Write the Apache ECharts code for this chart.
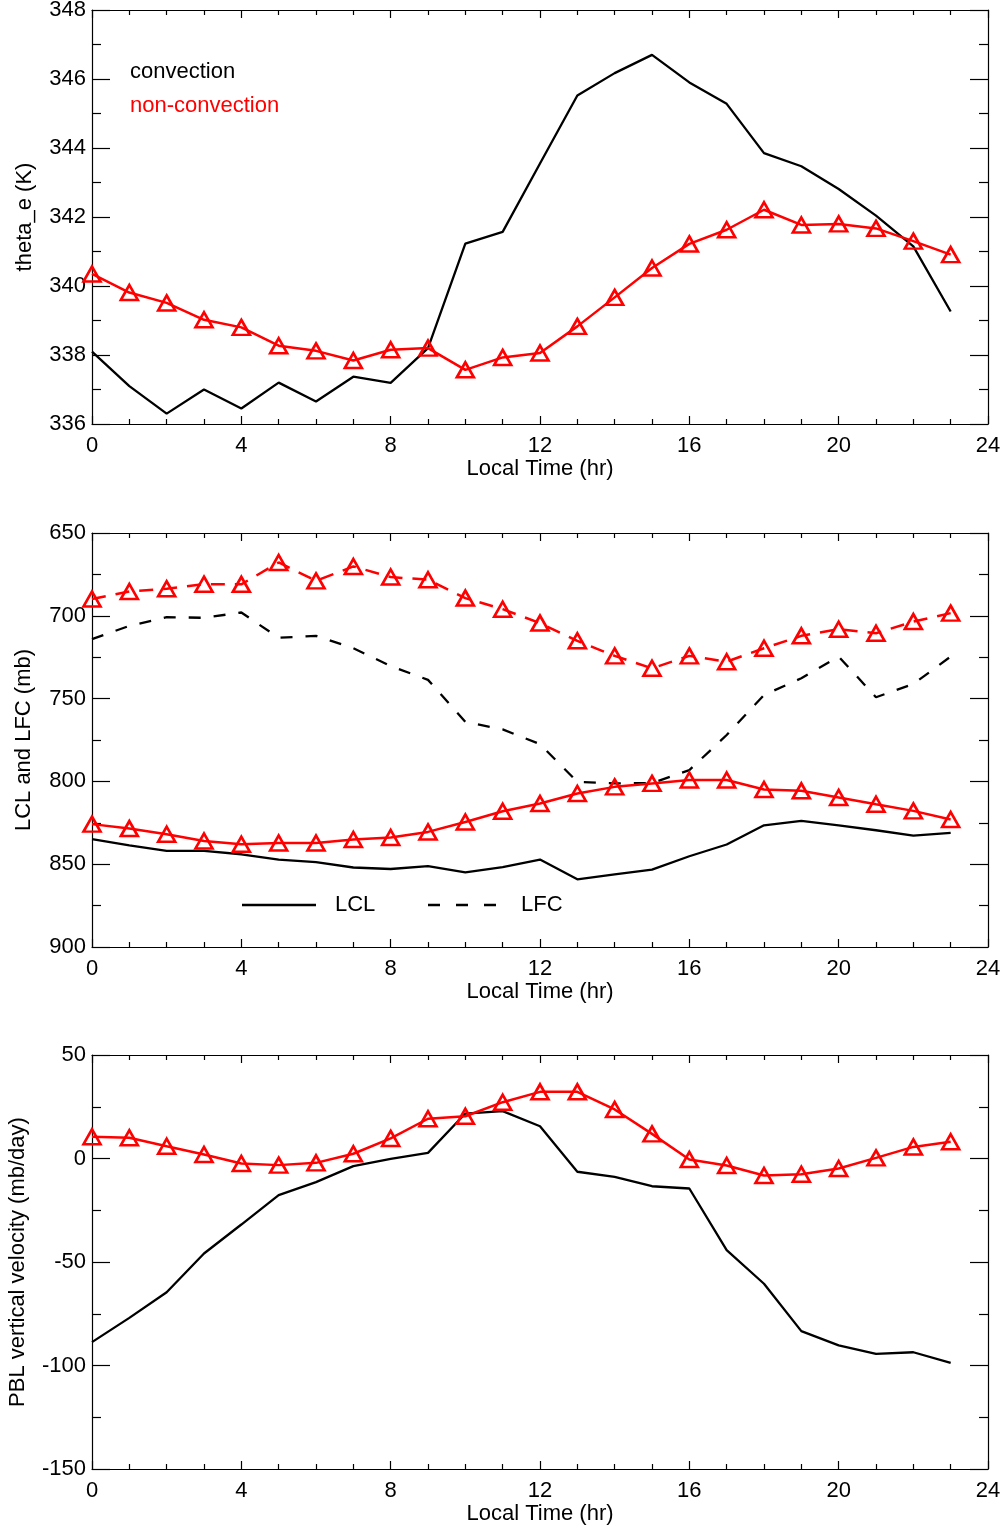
<!DOCTYPE html>
<html>
<head>
<meta charset="utf-8">
<script src="https://cdn.jsdelivr.net/npm/echarts@6/dist/echarts.min.js"></script>
<style>
  html, body { margin: 0; padding: 0; background: #fff; }
  #main { width: 1003px; height: 1528px; }
</style>
</head>
<body>
<div id="main"></div>
<script>
// local hour of day
var hours = [0,1,2,3,4,5,6,7,8,9,10,11,12,13,14,15,16,17,18,19,20,21,22,23];

// panel 1: theta_e (K)
var thetaConv = [338.1,337.1,336.3,337.0,336.45,337.2,336.65,337.37,337.19,338.2,341.23,341.57,343.55,345.52,346.17,346.7,345.9,345.28,343.85,343.47,342.81,342.04,341.15,339.26];
var thetaNon  = [340.35,339.81,339.51,339.02,338.8,338.27,338.12,337.84,338.15,338.2,337.57,337.93,338.06,338.83,339.67,340.52,341.22,341.63,342.21,341.77,341.8,341.67,341.3,340.91];

// panel 2: LCL / LFC (mb)
var lclConv = [834.9,838.6,842,842,844,847.2,848.8,852,852.9,851.1,854.9,851.7,847.2,859.1,856.1,853.3,845.2,838.1,826.5,823.9,826.5,829.5,832.7,831.1];
var lclNon  = [825.8,828.5,831.9,836,838,837.2,837.2,835.1,833.9,830.5,824.5,818,813.3,807.3,803.3,801.2,799.2,799.2,804.9,805.7,809.7,813.8,817.8,823];
var lfcConv = [714.1,706.1,700.8,701.2,698,713.3,712.1,719.6,730.3,738.7,764,768.6,777.5,800.3,801.2,801,793.2,772,747.8,737.7,724.6,749.2,741.2,724.6];
var lfcNon  = [689.9,685.3,683.7,680.9,681,667.8,678.9,670.2,676.6,678.2,689.3,696,704.4,715.1,724.2,731.7,724.2,727.7,719.6,712.1,708.1,710.5,703.5,698.4];

// panel 3: PBL vertical velocity (mb/day)
var wConv = [-88.7,-77,-64.6,-45.9,-31.9,-17.7,-11.4,-3.7,-0.2,2.7,21.7,22.9,15.6,-6.4,-8.9,-13.4,-14.5,-44.3,-60.5,-83.4,-90.3,-94.4,-93.6,-98.7];
var wNon  = [10.5,10,5.9,1.9,-2.4,-3.2,-2.1,2.3,9.7,19.2,20.4,27.2,32.2,32.2,23.7,11.9,-0.5,-3.4,-8.2,-7.6,-4.8,0.3,5.6,8.1];

var xTicks = [0, 4, 8, 12, 16, 20, 24];

var font = 'Liberation Sans, Arial, Helvetica, sans-serif';
var RED = '#ff0000';

function pairs(vals) {
    return hours.map(function (h, i) { return [h, vals[i]]; });
}

var grids = [
    { left: 92, right: 15, top: 10, height: 414, outerBoundsMode: 'none' },
    { left: 92, right: 15, top: 533, height: 414, outerBoundsMode: 'none' },
    { left: 92, right: 15, top: 1055, height: 414, outerBoundsMode: 'none' }
];

var xAxes = [], yAxes = [];
var yCfg = [
    { min: 336, max: 348, interval: 2, name: 'theta_e (K)', gap: 56, inverse: false },
    { min: 650, max: 900, interval: 50, name: 'LCL and LFC (mb)', gap: 57, inverse: true },
    { min: -150, max: 50, interval: 50, name: 'PBL vertical velocity (mb/day)', gap: 63, inverse: false }
];

for (var g = 0; g < 3; g++) {
    // bottom x (labels) and top x (ticks only)
    [false, true].forEach(function (isTop) {
        xAxes.push({
            type: 'value', gridIndex: g, min: 0, max: 24, interval: 4,
            position: isTop ? 'top' : 'bottom',
            name: isTop ? '' : 'Local Time (hr)',
            nameLocation: 'middle', nameGap: 33,
            nameTextStyle: { fontFamily: font, fontSize: 22, color: '#000' },
            axisLine: { show: true, onZero: false, lineStyle: { color: '#000', width: 1.2 } },
            axisTick: { show: true, inside: true, length: 8, lineStyle: { color: '#000', width: 1.2 } },
            minorTick: { show: true, splitNumber: 4, length: 5, lineStyle: { color: '#000', width: 1.2 } },
            axisLabel: { show: !isTop, margin: 11, fontFamily: font, fontSize: 22, color: '#000',
                         formatter: function (v) { return xTicks.indexOf(v) >= 0 ? String(v) : ''; } },
            splitLine: { show: false }
        });
    });
    var c = yCfg[g];
    [false, true].forEach(function (isRight) {
        yAxes.push({
            type: 'value', gridIndex: g, min: c.min, max: c.max, interval: c.interval, inverse: c.inverse,
            position: isRight ? 'right' : 'left',
            name: isRight ? '' : c.name,
            nameLocation: 'middle', nameGap: c.gap,
            nameTextStyle: { fontFamily: font, fontSize: 22, color: '#000' },
            axisLine: { show: true, onZero: false, lineStyle: { color: '#000', width: 1.2 } },
            axisTick: { show: true, inside: true, length: 18, lineStyle: { color: '#000', width: 1.2 } },
            minorTick: { show: true, splitNumber: 2, length: 9, lineStyle: { color: '#000', width: 1.2 } },
            axisLabel: { show: !isRight, margin: 6, fontFamily: font, fontSize: 22, color: '#000' },
            splitLine: { show: false }
        });
    });
}

function blackLine(g, vals, dashed) {
    return {
        type: 'line', xAxisIndex: g * 2, yAxisIndex: g * 2, data: pairs(vals),
        showSymbol: false, symbol: 'none', silent: true, animation: false,
        lineStyle: { color: '#000', width: 2.3, type: dashed ? [12, 13] : 'solid' }
    };
}

function redLine(g, vals, dashed) {
    return {
        type: 'line', xAxisIndex: g * 2, yAxisIndex: g * 2, data: pairs(vals),
        symbol: 'triangle', symbolSize: [17, 15], showSymbol: true, silent: true, animation: false,
        itemStyle: { color: 'rgba(255,255,255,0)', borderColor: RED, borderWidth: 2.6 },
        lineStyle: { color: RED, width: 2.5, type: dashed ? [14, 10] : 'solid' },
        z: 3
    };
}

var option = {
    animation: false,
    backgroundColor: '#fff',
    grid: grids,
    xAxis: xAxes,
    yAxis: yAxes,
    series: [
        blackLine(0, thetaConv, false),
        redLine(0, thetaNon, false),
        blackLine(1, lclConv, false),
        blackLine(1, lfcConv, true),
        redLine(1, lclNon, false),
        redLine(1, lfcNon, true),
        blackLine(2, wConv, false),
        redLine(2, wNon, false)
    ],
    graphic: [
        { type: 'text', left: 130, top: 61, style: { text: 'convection', fill: '#000', font: '22px ' + font } },
        { type: 'text', left: 130, top: 95, style: { text: 'non-convection', fill: RED, font: '22px ' + font } },
        { type: 'line', shape: { x1: 242, y1: 905, x2: 316, y2: 905 }, style: { stroke: '#000', lineWidth: 2.3 } },
        { type: 'text', left: 335, top: 894, style: { text: 'LCL', fill: '#000', font: '22px ' + font } },
        { type: 'line', shape: { x1: 428, y1: 905, x2: 497, y2: 905 }, style: { stroke: '#000', lineWidth: 2.3, lineDash: [12, 16] } },
        { type: 'text', left: 521, top: 894, style: { text: 'LFC', fill: '#000', font: '22px ' + font } }
    ]
};

var chart = echarts.init(document.getElementById('main'), null, { renderer: 'canvas' });
chart.setOption(option);
</script>
</body>
</html>
